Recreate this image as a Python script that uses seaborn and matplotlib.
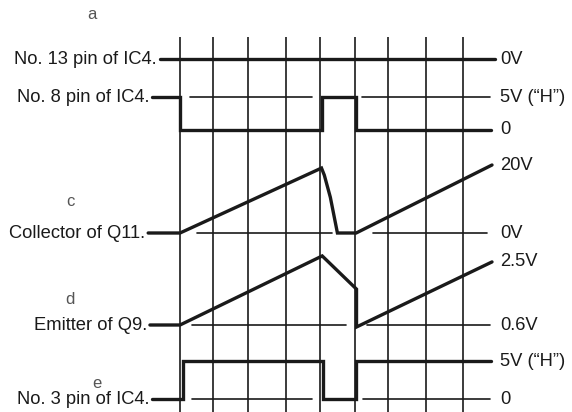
import matplotlib
matplotlib.use("Agg")
import matplotlib.pyplot as plt
import seaborn as sns
import numpy as np

# ---- time base (divisions) -------------------------------------------------
grid_t = [0.0, 0.93, 1.92, 3.0, 3.96, 4.94, 5.87, 6.94, 8.0]

# ---- waveforms: (time in divisions, voltage) --------------------------------
a_t = [-0.57, 8.9]
a_v = [0.0, 0.0]

b_t = [-0.79, 0.0, 0.0, 4.0, 4.0, 4.97, 4.97, 8.79]
b_v = [5.0, 5.0, 0.0, 0.0, 5.0, 5.0, 0.0, 0.0]

c_t = [-0.9, 0.0, 4.0, 4.08, 4.25, 4.45, 4.98, 8.82]
c_v = [0.0, 0.0, 19.1, 17.0, 10.5, 0.0, 0.0, 20.0]

d_t = [-0.85, 0.0, 4.02, 4.99, 4.99, 8.82]
d_v = [0.6, 0.6, 2.68, 1.68, 0.54, 2.5]

e_t = [-0.79, 0.08, 0.08, 4.04, 4.04, 4.97, 4.97, 8.8]
e_v = [0.0, 0.0, 5.0, 5.0, 0.0, 0.0, 5.0, 5.0]

# thin reference-level segments (start, end) per channel
b_ref = [(0.28, 3.73), (5.14, 8.76)]
c_ref = [(0.48, 4.3), (5.46, 8.68)]
d_ref = [(0.35, 4.68), (5.3, 8.76)]
e_ref = [(0.34, 3.73), (5.17, 8.76)]

left_labels = ["No. 13 pin of IC4.", "No. 8 pin of IC4.", "Collector of Q11.",
               "Emitter of Q9.", "No. 3 pin of IC4."]
right_labels = [["0V"], ["5V (\u201cH\u201d)", "0"], ["20V", "0V"],
                ["2.5V", "0.6V"], ["5V (\u201cH\u201d)", "0"]]
right_levels = [[0.0], [5.0, 0.0], [20.0, 0.0], [2.5, 0.6], [5.0, 0.0]]
tags = ["a", "c", "d", "e"]

# ---- layout: vertical placement of each channel ------------------------------
# (baseline row, reference voltage, rows per volt)
layout = {
    "a": (59, 0.0, 0.0),
    "b": (130, 0.0, 6.6),
    "c": (233, 0.0, 3.4),
    "d": (325, 0.6, 33.2),
    "e": (399, 0.0, 7.6),
}


def row(ch, v):
    base, ref, k = layout[ch]
    return base - (np.asarray(v, dtype=float) - ref) * k


sns.set_style("white")
plt.rcParams["font.family"] = ["Liberation Sans", "DejaVu Sans"]

fig = plt.figure(figsize=(5.72, 4.12), dpi=100)
ax = fig.add_axes([0, 0, 1, 1])
px = 35.375
ax.set_xlim(-180 / px, (572 - 180) / px)
ax.set_ylim(412, 0)
ax.axis("off")

ink = "#1a1a1a"

# vertical time-division lines
ax.vlines(grid_t, 37, 412, color=ink, lw=1.2, zorder=1)

# thin reference levels
for ch, segs, lvl in [("b", b_ref, 5.0), ("c", c_ref, 0.0),
                      ("d", d_ref, 0.6), ("e", e_ref, 0.0)]:
    for s, e in segs:
        ax.plot([s, e], [row(ch, lvl)] * 2, color=ink, lw=1.2, zorder=1)

# waveforms
traces = [("a", a_t, a_v), ("b", b_t, b_v), ("c", c_t, c_v),
          ("d", d_t, d_v), ("e", e_t, e_v)]
for ch, t, v in traces:
    sns.lineplot(x=t, y=row(ch, v), sort=False, estimator=None, ax=ax,
                 color=ink, lw=2.4, solid_joinstyle="miter", zorder=3)

fs = 13.2
# channel names at trace start
for (ch, t, v), lab in zip(traces, left_labels):
    ax.annotate(lab, (t[0], row(ch, v[0])), xytext=(-2, 0),
                textcoords="offset points", ha="right", va="center",
                fontsize=fs, color=ink)

# voltage levels at right
for (ch, _, _), labs, lvls in zip(traces, right_labels, right_levels):
    for lab, lv in zip(labs, lvls):
        ax.text(320 / px, row(ch, lv), lab, ha="left", va="center",
                fontsize=fs, color=ink)

# small channel tags
tag_pos = [(-2.49, 14), (-3.11, 201), (-3.11, 300), (-2.35, 384)]
for tag, (tx, ty) in zip(tags, tag_pos):
    ax.text(tx, ty, tag, ha="center", va="center", fontsize=12,
            color="#555555")

fig.savefig("out.png", dpi=100, facecolor="white")
